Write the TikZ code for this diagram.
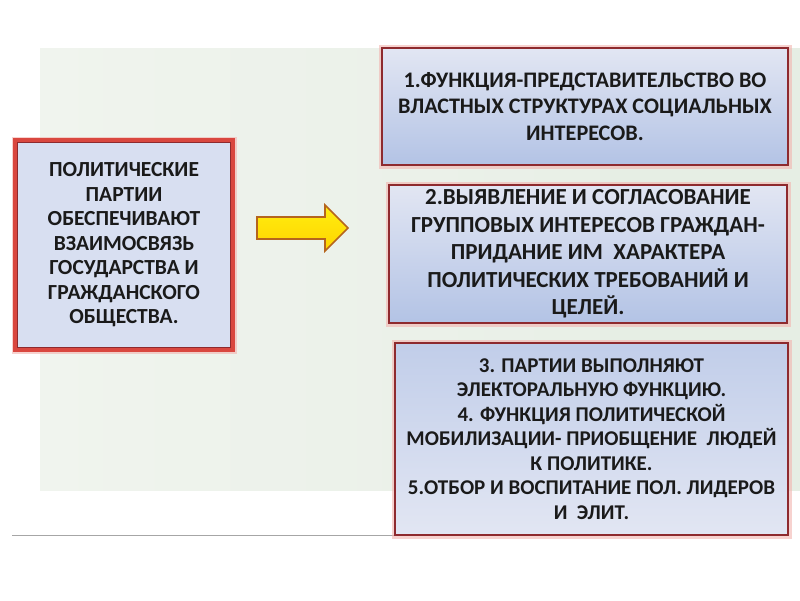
\documentclass[tikz,border=0pt]{standalone}
\usepackage{fontspec}
\setmainfont{Carlito}
\definecolor{panelc}{HTML}{F0F4EE}
\definecolor{panelb}{HTML}{E6EEE4}
\definecolor{boxtop}{HTML}{E2E6F3}
\definecolor{boxbot}{HTML}{B3C3E5}
\definecolor{darkred}{HTML}{8E2A2E}
\definecolor{redbord}{HTML}{D9473F}
\definecolor{glow}{HTML}{F2B4B0}
\definecolor{leftfill}{HTML}{D8DFF1}
\definecolor{arrfill}{HTML}{FFEE10}
\definecolor{arrfillb}{HTML}{FFD400}
\definecolor{arrline}{HTML}{B5651D}
\definecolor{txt}{HTML}{1A1A1A}
\tikzset{
  funcbox/.style={draw=darkred, line width=2.4pt, top color=boxtop, bottom color=boxbot,
    align=center, text=txt, inner sep=0pt, font=\bfseries},
  glowrect/.style={draw=glow, line width=7pt, opacity=0.6},
  leftbox/.style={draw=redbord, line width=4.5pt, fill=leftfill, align=center, text=txt,
    inner sep=0pt, font=\bfseries\fontsize{21.5}{24.5}\selectfont},
  bigarrow/.style={draw=arrline, line width=1.6pt, top color=arrfill, bottom color=arrfillb,
    line join=miter}
}
\begin{document}
\begin{tikzpicture}[x=1pt,y=-1pt]
\useasboundingbox (0,0) rectangle (800,600);
\fill[white] (0,0) rectangle (800,600);
% textured background panel
\shade[left color=panelc, right color=panelb] (40,48) rectangle (800,490);
\fill[panelb, opacity=0.5] (600,150) rectangle (800,360);
% bottom rule
\draw[gray!70, line width=0.8pt] (12,535) -- (395,535);
% glows
\draw[glowrect] (15,140) rectangle (233,350);
\draw[glowrect] (382,48) rectangle (788,165);
\draw[glowrect] (389,185) rectangle (787,323);
\draw[glowrect] (395,343) rectangle (788,535);
% left box
\node[leftbox, minimum width=218pt, minimum height=210pt] (left) at (124,245)
  {ПОЛИТИЧЕСКИЕ\\ПАРТИИ\\ОБЕСПЕЧИВАЮТ\\ВЗАИМОСВЯЗЬ\\ГОСУДАРСТВА И\\ГРАЖДАНСКОГО\\ОБЩЕСТВА.};
\draw[darkred, line width=0.8pt] (17.5,142.5) rectangle (230.5,347.5);
% arrow
\draw[bigarrow] (257,217) -- (325,217) -- (325,205) -- (348,228) -- (325,251) -- (325,239) -- (257,239) -- cycle;
% function boxes
\node[funcbox, minimum width=406pt, minimum height=117pt, font=\bfseries\fontsize{22.2}{26.5}\selectfont] (b1) at (585,106.5)
  {1.ФУНКЦИЯ-ПРЕДСТАВИТЕЛЬСТВО ВО\\ВЛАСТНЫХ СТРУКТУРАХ СОЦИАЛЬНЫХ\\ИНТЕРЕСОВ.};
\node[funcbox, minimum width=398pt, minimum height=138pt, font=\bfseries\fontsize{23}{27.5}\selectfont] (b2) at (588,254)
  {2.ВЫЯВЛЕНИЕ И СОГЛАСОВАНИЕ\\ГРУППОВЫХ ИНТЕРЕСОВ ГРАЖДАН-\\ПРИДАНИЕ ИМ \ ХАРАКТЕРА\\ПОЛИТИЧЕСКИХ ТРЕБОВАНИЙ И\\ЦЕЛЕЙ.};
\node[funcbox, minimum width=393pt, minimum height=192pt, top color=boxbot!70!boxtop, bottom color=boxtop,
  font=\bfseries\fontsize{21}{24.5}\selectfont] (b3) at (591.5,439)
  {3. ПАРТИИ ВЫПОЛНЯЮТ\\ЭЛЕКТОРАЛЬНУЮ ФУНКЦИЮ.\\4. ФУНКЦИЯ ПОЛИТИЧЕСКОЙ\\МОБИЛИЗАЦИИ- ПРИОБЩЕНИЕ \ ЛЮДЕЙ\\К ПОЛИТИКЕ.\\5.ОТБОР И ВОСПИТАНИЕ ПОЛ. ЛИДЕРОВ\\И \ ЭЛИТ.};
\end{tikzpicture}
\end{document}
